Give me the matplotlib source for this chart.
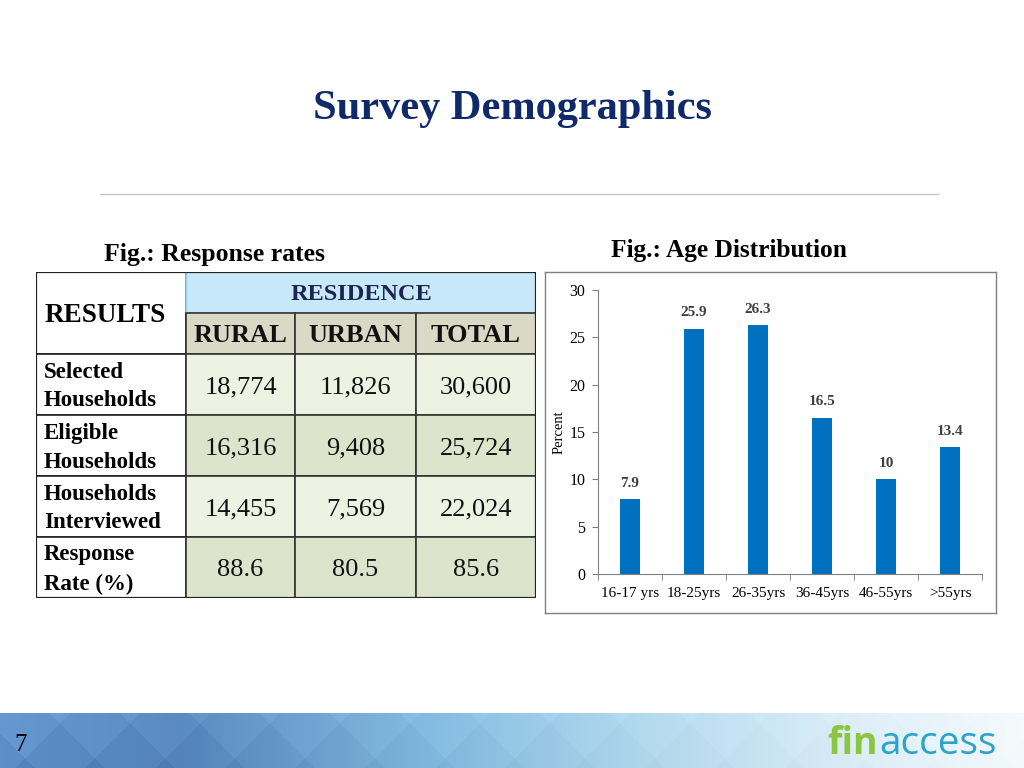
import matplotlib
matplotlib.use('Agg')
import matplotlib.pyplot as plt
from matplotlib.patches import Rectangle
import numpy as np

W, H = 1024, 768

# ---- data ----
age_groups = ['16-17 yrs', '18-25yrs', '26-35yrs', '36-45yrs', '46-55yrs', '>55yrs']
age_pct = [7.9, 25.9, 26.3, 16.5, 10, 13.4]
age_labels = ['7.9', '25.9', '26.3', '16.5', '10', '13.4']

residence_cols = ['RURAL', 'URBAN', 'TOTAL']
row_labels = ['Selected\nHouseholds', 'Eligible\nHouseholds', 'Households\nInterviewed', 'Response\nRate (%)']
rural = ['18,774', '16,316', '14,455', '88.6']
urban = ['11,826', '9,408', '7,569', '80.5']
total = ['30,600', '25,724', '22,024', '85.6']

SERIF = 'Liberation Serif'
plt.rcParams['font.family'] = SERIF


def px_axes(fig, x0, y0, x1, y1, **kw):
    # axes placed by pixel box (top-left origin)
    return fig.add_axes([x0 / W, 1 - y1 / H, (x1 - x0) / W, (y1 - y0) / H], **kw)


fig = plt.figure(figsize=(W / 100, H / 100), dpi=100)
fig.patch.set_facecolor('white')

# ---- title & rule ----
fig.text(512 / W, 1 - 109 / H, 'Survey Demographics', ha='center', va='center',
         fontsize=30.5, fontweight='bold', color='#10296b')
fig.add_artist(plt.Line2D([100 / W, 938 / W], [1 - 194 / H, 1 - 194 / H], color='#c8c8c8', lw=1))

fig.text(104 / W, 1 - 254 / H, 'Fig.: Response rates', ha='left', va='center',
         fontsize=18.5, fontweight='bold', color='black')
fig.text(611 / W, 1 - 250 / H, 'Fig.: Age Distribution', ha='left', va='center',
         fontsize=18.3, fontweight='bold', color='black')

# ---- table ----
tx = [0, 150, 259, 380, 500]
ty = [0, 41, 82, 143, 204, 265, 326]
tab = px_axes(fig, 36, 272, 536, 598)
tab.set_xlim(0, 500)
tab.set_ylim(326, 0)
tab.axis('off')

light, dark = '#edf2e3', '#dce5cc'
# RESULTS cell
tab.add_patch(Rectangle((tx[0], ty[0]), tx[1] - tx[0], ty[2] - ty[0], fc='white', ec='#222222', lw=1.2))
tab.text(9, (ty[0] + ty[2]) / 2 + 2, 'RESULTS', ha='left', va='center', fontsize=19.5, fontweight='bold')
# RESIDENCE header
tab.add_patch(Rectangle((tx[1], ty[0]), tx[4] - tx[1], ty[1] - ty[0], fc='#c6e8f8', ec='#8ccbe8', lw=1.2))
tab.text((tx[1] + tx[4]) / 2, (ty[0] + ty[1]) / 2 + 2, 'RESIDENCE', ha='center', va='center',
         fontsize=17.5, fontweight='bold', color='#1c2450')
for c, name in enumerate(residence_cols):
    tab.add_patch(Rectangle((tx[c + 1], ty[1]), tx[c + 2] - tx[c + 1], ty[2] - ty[1],
                            fc='#d9d9c5', ec='#333333', lw=1.2))
    tab.text((tx[c + 1] + tx[c + 2]) / 2, (ty[1] + ty[2]) / 2 + 2, name, ha='center', va='center',
             fontsize=19, fontweight='bold', color='#111111')

cols = [rural, urban, total]
for r, lab in enumerate(row_labels):
    y0, y1 = ty[r + 2], ty[r + 3]
    fc = light if r % 2 == 0 else dark
    tab.add_patch(Rectangle((tx[0], y0), tx[1] - tx[0], y1 - y0, fc='white', ec='#222222', lw=1.2))
    tab.text(8, (y0 + y1) / 2 + 2, lab, ha='left', va='center', fontsize=16.5,
             fontweight='bold', linespacing=1.5)
    for c in range(3):
        tab.add_patch(Rectangle((tx[c + 1], y0), tx[c + 2] - tx[c + 1], y1 - y0, fc=fc, ec='#333333', lw=1.2))
        tab.text((tx[c + 1] + tx[c + 2]) / 2, (y0 + y1) / 2 + 3, cols[c][r], ha='center', va='center',
                 fontsize=19, color='#111111')
tab.add_patch(Rectangle((0, 0), 500, 326, fc='none', ec='#222222', lw=1.6))

# ---- bar chart ----
frame = px_axes(fig, 545, 272, 996, 613)
frame.set_xticks([])
frame.set_yticks([])
for s in frame.spines.values():
    s.set_color('#808080')
    s.set_linewidth(1)
frame.patch.set_alpha(0)

ax = px_axes(fig, 598, 290, 982, 574)
x = np.arange(len(age_groups))
ax.bar(x, age_pct, width=0.31, color='#0070c0')
ax.set_xlim(-0.5, len(age_groups) - 0.5)
ax.set_ylim(0, 30)
ax.set_yticks(range(0, 31, 5))
ax.set_xticks(x)
ax.set_xticklabels(age_groups, fontsize=11)
ax.set_xticks(np.arange(-0.5, len(age_groups)), minor=True)
ax.tick_params(axis='x', which='major', length=0, pad=9)
ax.tick_params(axis='x', which='minor', length=4, color='#808080', direction='out')
ax.tick_params(axis='y', labelsize=11.5, length=4, color='#808080', pad=5)
for s in ['top', 'right']:
    ax.spines[s].set_visible(False)
for s in ['left', 'bottom']:
    ax.spines[s].set_color('#808080')
ax.set_ylabel('Percent', fontsize=10.5, labelpad=3)
for xi, v, lab in zip(x, age_pct, age_labels):
    ax.text(xi, v + 1.0, lab, ha='center', va='bottom', fontsize=11,
            fontweight='bold', color='#404040')

# ---- footer banner ----
ban = px_axes(fig, 0, 713, 1024, 768)
bx = np.arange(W)[None, :]
by = np.arange(55)[:, None]
stops_x = [0, 180, 420, 650, 850, 1024]
stops_c = np.array([[0.38, 0.58, 0.80], [0.34, 0.53, 0.74], [0.50, 0.72, 0.87],
                    [0.70, 0.85, 0.93], [0.86, 0.93, 0.97], [0.96, 0.98, 0.99]])
base = np.stack([np.interp(np.arange(W), stops_x, stops_c[:, k]) for k in range(3)], axis=-1)
img = np.repeat(base[None, :, :], 55, axis=0)
s = 70.0
u = np.floor((bx + by) / s)
v = np.floor((bx - by + 1000) / s)
shade = ((u * 3 + v * 5) % 4) / 3.0 - 0.5
fade = np.clip(1 - np.arange(W) / 1100.0, 0.15, 1)[None, :]
img = np.clip(img + (shade * 0.11 * fade)[:, :, None], 0, 1)
ban.imshow(img, aspect='auto', extent=(0, W, 55, 0))
ban.set_xlim(0, W)
ban.set_ylim(55, 0)
ban.axis('off')

fig.text(14 / W, 1 - 745 / H, '7', ha='left', va='center', fontsize=18, color='black')
fig.text(878 / W, 1 - 744 / H, 'fin', ha='right', va='center', fontsize=27,
         fontweight='bold', color='#8cc63f', family='Open Sans')
fig.text(879 / W, 1 - 744 / H, 'access', ha='left', va='center', fontsize=28,
         color='#2ba3cb', family='Open Sans')

fig.savefig('out.png', dpi=100)
